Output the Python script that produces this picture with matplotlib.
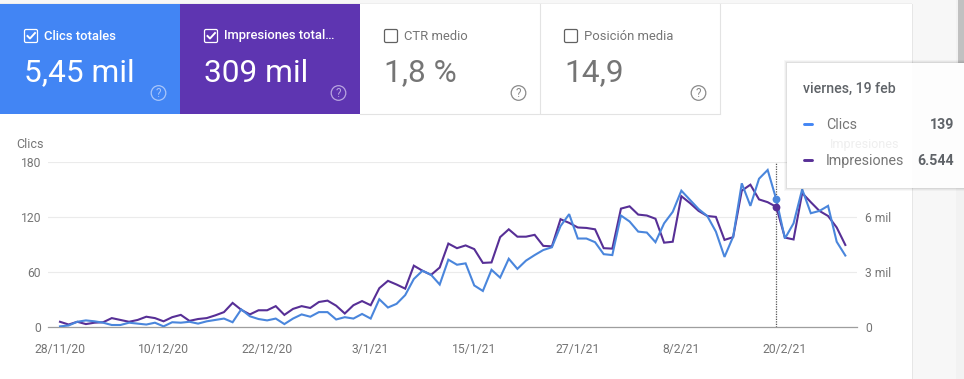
import matplotlib
matplotlib.use("Agg")
import matplotlib.pyplot as plt
from matplotlib.patches import Rectangle, FancyBboxPatch, Circle
import pandas as pd

plt.rcParams['font.family'] = ['Roboto', 'DejaVu Sans']

W, H = 964, 379

# daily values, 28/11/20 to 27/2/21
clicks = [1, 2, 6, 7.5, 6.5, 5, 2.5, 2.5, 5, 4, 3, 5, 1, 5.5, 5, 6, 4, 6.5, 8, 9.5,
          5.5, 19.5, 12, 9, 7.5, 9.5, 3.5, 9.5, 14, 11.5, 16.5, 16.5,
          8.5, 11, 9.5, 14.5, 9.5, 30.5, 21.5, 25.5, 35, 52.5, 61.5, 57, 46.5, 73.5,
          68, 69.5, 45.5, 39.5, 62.5, 54, 74.5, 63.5, 72.5, 78.5, 84, 87, 110, 123,
          96.5, 96.5, 92.5, 79.5, 78.5, 121.5, 115,
          104, 103, 92.5, 113, 125.5, 148.5, 138.5, 128.5, 121, 104, 76.5, 98.5, 156.5,
          132, 161.5, 171, 139, 96.5, 113, 150, 124, 126.5, 132, 93, 78]
impressions = [300, 150, 300, 175, 250, 275, 500, 400, 300, 400, 575, 500, 325, 550,
               675, 350, 450, 500, 650, 825, 1325, 950, 700, 925, 925, 1150, 675, 1000,
               1150, 1050, 1375, 1450,
               1175, 750, 1200, 1425, 1200, 2125, 2525, 2325, 2100, 3350, 3075, 2850,
               3250, 4550, 4300, 4450, 4250, 3500, 3525, 4900, 5325, 4925, 4925, 5025,
               4425, 4400, 5875, 5675, 5425, 5400, 5325, 4300, 4275, 6450, 6575,
               6125, 6075, 5900, 4600, 4650, 7125, 6750, 6325, 6050, 6000, 4750, 4900,
               7425, 7750, 6950, 6800, 6544, 4875, 4775, 7300, 6800, 6325, 6050, 5425, 4475]
dates = pd.date_range("2020-11-28", periods=len(clicks), freq="D")

left_ticks = [0, 60, 120, 180]
left_labels = ["0", "60", "120", "180"]
right_ticks = [0, 3000, 6000]
right_labels = ["0", "3 mil", "6 mil"]
date_ticks = ["2020-11-28", "2020-12-10", "2020-12-22", "2021-01-03",
              "2021-01-15", "2021-01-27", "2021-02-08", "2021-02-20"]
date_labels = ["28/11/20", "10/12/20", "22/12/20", "3/1/21", "15/1/21", "27/1/21", "8/2/21", "20/2/21"]
hover_date = "2021-02-19"

BLUE = "#4285f4"
PURPLE = "#5e35b1"
LINE_BLUE = "#4a86dc"
LINE_PURPLE = "#572f96"
GREY = "#757575"
DARK = "#5f6368"

fig = plt.figure(figsize=(W / 100, H / 100), dpi=100, facecolor="#f7f7f7")

# full figure axes in pixels, for the cards
bg = fig.add_axes([0, 0, 1, 1], zorder=0)
bg.set_xlim(0, W)
bg.set_ylim(H, 0)
bg.axis("off")
bg.add_patch(Rectangle((956, 0), 8, H, fc="#f2f2f2", ec="none"))
bg.add_patch(Rectangle((958, 0), 6, 64, fc="#c1c1c1", ec="none"))
bg.add_patch(Rectangle((0, 4), 912, H - 4, fc="white", ec="none"))
bg.add_patch(Rectangle((911.5, 4), 1, H - 4, fc="#e6e6e6", ec="none"))
bg.add_patch(Rectangle((0, 3), 912, 1, fc="#eeeeee", ec="none"))

# chart, pixel box 48..857 x 161.7..327.3
x0, x1, y_top, y_bot = 48, 857, 161.7, 327.3
ax = fig.add_axes([x0 / W, 1 - y_bot / H, (x1 - x0) / W, (y_bot - y_top) / H], zorder=1)
ax.patch.set_alpha(0)
px_day = 8.63
ax.set_xlim(dates[0] - pd.Timedelta(days=(60 - x0) / px_day), dates[0] + pd.Timedelta(days=(x1 - 60) / px_day))
ax.set_ylim(0, 180)
ax.set_yticks(left_ticks, left_labels)
ax.set_xticks(pd.to_datetime(date_ticks), date_labels)
ax.tick_params(length=0, labelsize=8.7, labelcolor=GREY, pad=5)
ax.tick_params(axis="x", pad=11)
ax.grid(axis="y", color="#ebebeb", lw=0.8)
ax.grid(axis="x", visible=False)
ax.set_axisbelow(True)
for s in ax.spines.values():
    s.set_visible(False)
ax.spines["bottom"].set_visible(True)
ax.spines["bottom"].set_color("#9e9e9e")
ax.spines["bottom"].set_linewidth(0.9)

ax2 = ax.twinx()
ax2.set_ylim(0, 9000)
ax2.set_yticks(right_ticks, right_labels)
ax2.tick_params(length=0, labelsize=8.7, labelcolor=GREY, pad=6)
for s in ax2.spines.values():
    s.set_visible(False)

hover = pd.Timestamp(hover_date)
hover_i = list(dates).index(hover)
ax.axvline(hover, color="#555555", lw=0.9, ls=(0, (1, 1)), zorder=1)
ax2.plot(dates, impressions, color=LINE_PURPLE, lw=1.5, solid_joinstyle="miter", zorder=2)
ax2.plot(dates, [c * 50 for c in clicks], color=LINE_BLUE, lw=1.5, solid_joinstyle="miter", zorder=3)
ax2.plot([hover], [clicks[hover_i] * 50], "o", color=LINE_BLUE, ms=5.6, mew=0, zorder=4)
ax2.plot([hover], [impressions[hover_i]], "o", color=LINE_PURPLE, ms=5.6, mew=0, zorder=4)

# overlay for cards and tooltip
ov = fig.add_axes([0, 0, 1, 1], zorder=5)
ov.set_xlim(0, W)
ov.set_ylim(H, 0)
ov.axis("off")
ov.patch.set_alpha(0)


def card(x, w, color, title, value, selected):
    fg = "white" if selected else GREY
    ov.add_patch(Rectangle((x, 4), w, 110, fc=color, ec="none"))
    ov.add_patch(FancyBboxPatch((x + 24.5, 29.5), 13, 13, boxstyle="round,pad=0,rounding_size=1.5",
                                fc="none", ec=fg if selected else "#616161", lw=0.9))
    if selected:
        ov.plot([x + 27.5, x + 30, x + 35], [36, 38.5, 33], color="white", lw=1.4)
    ov.text(x + 44, 36, title, color=fg, fontsize=9.4, va="center", ha="left",
            fontweight="medium" if selected else "normal")
    ov.text(x + 24.5, 73, value, color=fg, fontsize=22.8, va="center", ha="left")
    qc = "#a9c6fa" if color == BLUE else "#b9a5e0" if color == PURPLE else "#8a8a8a"
    ov.add_patch(Circle((x + 158.5, 93), 7.3, fc="none", ec=qc, lw=0.9))
    ov.text(x + 158.5, 93.5, "?", color=qc, fontsize=8.5, va="center", ha="center")


card(0, 180, BLUE, "Clics totales", "5,45 mil", True)
card(180, 180, PURPLE, "Impresiones total…", "309 mil", True)
card(360, 180, "white", "CTR medio", "1,8 %", False)
card(540, 180, "white", "Posición media", "14,9", False)
ov.plot([540, 540], [4, 113], color="#e3e3e3", lw=0.8)
ov.plot([720, 720], [4, 113], color="#e3e3e3", lw=0.8)
ov.plot([360, 720], [113.5, 113.5], color="#e3e3e3", lw=0.8)

ov.text(16, 144.5, "Clics", color=GREY, fontsize=9, va="center", ha="left")

# tooltip with a soft shadow
for grow, a in [(3, 0.03), (2, 0.04), (1, 0.06)]:
    ov.add_patch(Rectangle((787 - grow, 63 - grow), 190, 125 + 2 * grow, fc="black", alpha=a, ec="none"))
ov.add_patch(Rectangle((787, 63), 180, 125, fc="white", ec="none"))
ov.add_patch(Rectangle((912, 63), 52, 125, fc="#fdfdfd", ec="none"))
ov.text(803, 89, "viernes, 19 feb", color=DARK, fontsize=10.2, fontweight="medium", va="center", ha="left")
ov.plot([804, 812], [124, 124], color=BLUE, lw=2.1, solid_capstyle="round")
ov.plot([804, 812], [160, 160], color=LINE_PURPLE, lw=2.1, solid_capstyle="round")
ov.text(826, 125, "Clics", color=GREY, fontsize=10.3, va="center", ha="left")
ov.text(826, 161, "Impresiones", color=GREY, fontsize=10.3, va="center", ha="left")
ov.text(954, 125, "139", color=DARK, fontsize=10.2, fontweight="bold", va="center", ha="right")
ov.text(954, 161, "6.544", color=DARK, fontsize=10.2, fontweight="bold", va="center", ha="right")
ov.text(830, 144.5, "Impresiones", color="#efefef", fontsize=9, va="center", ha="left")

fig.savefig("out.png", dpi=100, facecolor=fig.get_facecolor())
